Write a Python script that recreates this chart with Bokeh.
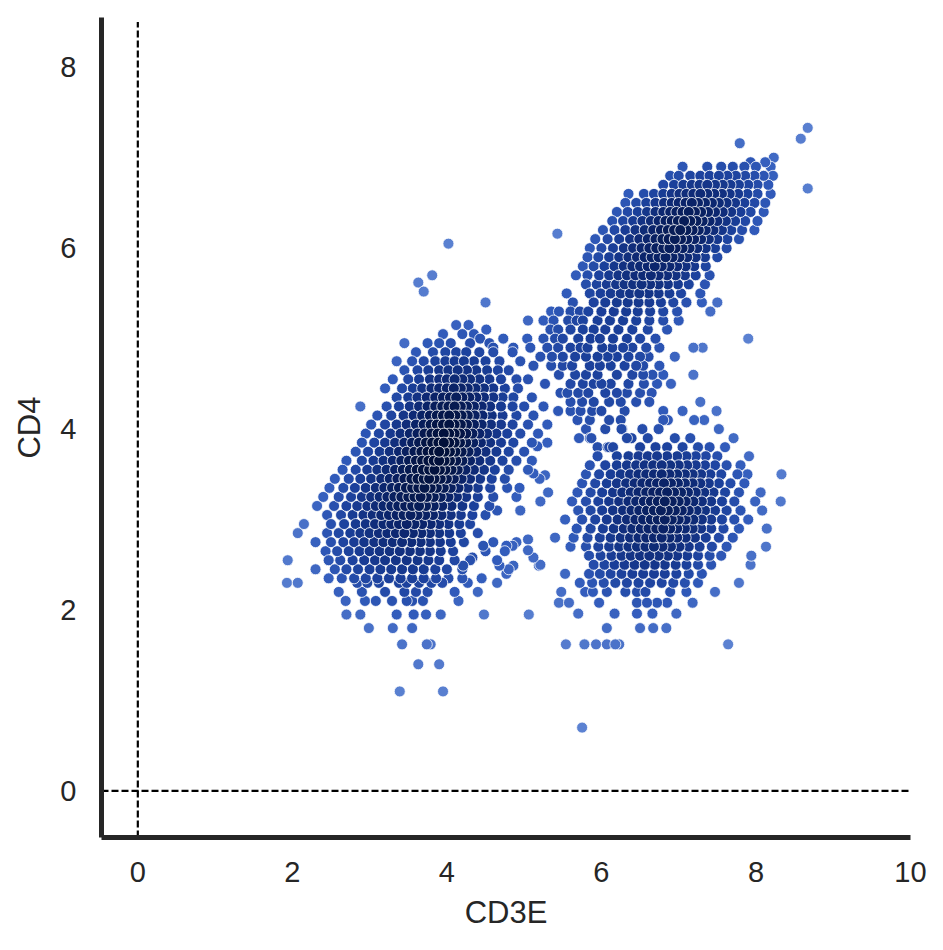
import numpy as np
from bokeh.plotting import figure
from bokeh.models import Range1d, FixedTicker, ColumnDataSource
from bokeh.embed import file_html
from bokeh.resources import INLINE

# ---------------- data ----------------
x_label = "CD3E"
y_label = "CD4"
x_ticks = [0, 2, 4, 6, 8, 10]
y_ticks = [0, 2, 4, 6, 8]
ref_x = 0.0   # vertical dashed reference
ref_y = 0.0   # horizontal dashed reference

# cluster around CD3E~4, CD4~3.5 : rows of (CD4, [CD3E values])
cluster_a_rows = [
    (6.05, [4.02]),
    (5.70, [3.81]),
    (5.62, [3.63]),
    (5.52, [3.70]),
    (5.40, [4.50]),
    (5.15, [4.12, 4.28]),
    (5.05, [3.95, 4.20, 4.35]),
    (4.95, [3.45, 3.75, 3.90, 4.05, 4.30, 4.55]),
    (4.85, [3.60, 3.82, 3.98, 4.12, 4.25, 4.42, 4.60, 4.85]),
    (4.75, [3.35, 3.55, 3.70, 3.85, 3.98, 4.10, 4.22, 4.35, 4.50, 4.68, 4.95]),
    (4.65, [3.45, 3.62, 3.76, 3.90, 4.02, 4.14, 4.26, 4.38, 4.52, 4.66, 4.80]),
    (4.55, [3.30, 3.50, 3.64, 3.78, 3.90, 4.00, 4.10, 4.20, 4.30, 4.42, 4.55, 4.70, 4.90, 5.05]),
    (4.45, [3.20, 3.42, 3.56, 3.68, 3.80, 3.90, 4.00, 4.09, 4.18, 4.27, 4.37, 4.48, 4.60, 4.75, 4.92]),
    (4.35, [3.35, 3.50, 3.62, 3.74, 3.85, 3.95, 4.04, 4.12, 4.20, 4.29, 4.38, 4.48, 4.60, 4.72, 4.86, 5.10]),
    (4.25, [2.88, 3.22, 3.38, 3.52, 3.64, 3.75, 3.85, 3.94, 4.02, 4.10, 4.18, 4.26, 4.35, 4.45, 4.56, 4.70, 4.85, 5.00, 5.25]),
    (4.15, [3.10, 3.28, 3.44, 3.57, 3.68, 3.78, 3.87, 3.95, 4.03, 4.11, 4.19, 4.27, 4.36, 4.46, 4.58, 4.72, 4.90, 5.12]),
    (4.05, [3.02, 3.20, 3.35, 3.48, 3.60, 3.70, 3.79, 3.87, 3.95, 4.03, 4.10, 4.18, 4.26, 4.35, 4.45, 4.57, 4.70, 4.85, 5.05, 5.30]),
    (3.95, [2.95, 3.12, 3.27, 3.40, 3.52, 3.62, 3.71, 3.80, 3.88, 3.96, 4.03, 4.10, 4.17, 4.25, 4.33, 4.42, 4.52, 4.64, 4.78, 4.95, 5.18]),
    (3.85, [2.90, 3.06, 3.20, 3.33, 3.45, 3.55, 3.64, 3.73, 3.81, 3.89, 3.96, 4.03, 4.10, 4.17, 4.25, 4.34, 4.44, 4.56, 4.70, 4.86, 5.10, 5.30]),
    (3.75, [2.82, 2.98, 3.13, 3.26, 3.38, 3.48, 3.58, 3.67, 3.75, 3.83, 3.90, 3.97, 4.04, 4.11, 4.19, 4.28, 4.38, 4.50, 4.64, 4.80, 5.00]),
    (3.65, [2.70, 2.90, 3.05, 3.18, 3.30, 3.41, 3.51, 3.60, 3.68, 3.76, 3.83, 3.90, 3.97, 4.04, 4.12, 4.20, 4.30, 4.42, 4.56, 4.72, 4.90, 5.10]),
    (3.55, [2.65, 2.82, 2.97, 3.10, 3.22, 3.33, 3.43, 3.52, 3.61, 3.69, 3.77, 3.84, 3.91, 3.98, 4.06, 4.14, 4.24, 4.35, 4.48, 4.62, 4.80, 5.05]),
    (3.45, [2.55, 2.73, 2.88, 3.02, 3.15, 3.26, 3.36, 3.45, 3.54, 3.62, 3.70, 3.77, 3.84, 3.92, 4.00, 4.09, 4.19, 4.30, 4.43, 4.58, 4.75, 5.20]),
    (3.35, [2.48, 2.66, 2.81, 2.95, 3.08, 3.19, 3.29, 3.38, 3.47, 3.55, 3.63, 3.71, 3.79, 3.87, 3.96, 4.05, 4.15, 4.27, 4.40, 4.56, 4.78]),
    (3.25, [2.40, 2.60, 2.76, 2.90, 3.02, 3.13, 3.23, 3.32, 3.41, 3.50, 3.58, 3.66, 3.74, 3.83, 3.92, 4.02, 4.13, 4.25, 4.40, 4.60, 4.90]),
    (3.15, [2.32, 2.54, 2.70, 2.84, 2.97, 3.08, 3.18, 3.28, 3.37, 3.46, 3.55, 3.64, 3.73, 3.83, 3.94, 4.06, 4.20, 4.35, 4.55]),
    (3.05, [2.45, 2.63, 2.78, 2.92, 3.04, 3.15, 3.25, 3.35, 3.44, 3.53, 3.62, 3.72, 3.82, 3.93, 4.05, 4.18, 4.33, 4.50]),
    (2.95, [2.15, 2.50, 2.67, 2.82, 2.95, 3.07, 3.18, 3.28, 3.38, 3.48, 3.58, 3.68, 3.79, 3.90, 4.02, 4.16, 4.30]),
    (2.85, [2.07, 2.45, 2.60, 2.75, 2.88, 3.00, 3.12, 3.23, 3.34, 3.45, 3.56, 3.67, 3.78, 3.90, 4.03, 4.18, 4.40]),
    (2.75, [2.30, 2.50, 2.66, 2.80, 2.93, 3.06, 3.18, 3.30, 3.42, 3.54, 3.66, 3.78, 3.91, 4.05, 4.22, 4.60, 4.90]),
    (2.65, [2.43, 2.58, 2.73, 2.87, 3.00, 3.13, 3.26, 3.39, 3.52, 3.65, 3.78, 3.92, 4.08, 4.50, 4.75]),
    (2.55, [1.94, 2.47, 2.62, 2.78, 2.93, 3.07, 3.20, 3.34, 3.48, 3.62, 3.76, 3.90, 4.10, 4.30, 4.65]),
    (2.45, [2.30, 2.55, 2.70, 2.85, 3.00, 3.14, 3.28, 3.42, 3.56, 3.70, 3.85, 4.00, 4.20, 4.80]),
    (2.35, [2.47, 2.64, 2.80, 2.95, 3.10, 3.25, 3.40, 3.55, 3.70, 3.86, 4.02, 4.20, 4.45]),
    (2.30, [1.93, 2.07, 2.84, 2.97, 3.12, 3.38, 3.48, 3.64, 3.80, 3.94, 4.27, 4.65]),
    (2.20, [2.60, 2.90, 3.20, 3.45, 3.60, 3.75, 4.10, 4.40]),
    (2.10, [2.69, 2.94, 3.08, 3.29, 3.48, 3.55, 3.69, 4.15]),
    (1.95, [2.70, 2.88, 3.35, 3.57, 3.73, 3.92, 4.48, 5.06]),
    (1.80, [2.99, 3.30, 3.55]),
    (1.62, [3.42, 3.74, 3.79]),
    (1.40, [3.63, 3.90]),
    (1.10, [3.39, 3.95]),
]

# scattered cells between the left and the lower-right clusters
arm_x = [5.05, 4.77, 4.85, 4.47, 4.33, 4.21, 4.68, 4.86, 4.77, 5.12, 5.19, 5.05, 4.95, 4.65, 4.94, 5.27, 5.12, 5.17]
arm_y = [2.78, 2.71, 2.71, 2.71, 2.58, 2.49, 2.49, 2.49, 2.40, 2.58, 2.49, 2.66, 3.10, 3.10, 3.35, 3.49, 3.51, 3.81]

# upper-right cluster (CD3E~7, CD4~6) and the bridge below it
cluster_b_rows = [
    (7.33, [8.67]),
    (7.21, [8.58]),
    (7.16, [7.79]),
    (7.00, [8.23]),
    (6.95, [7.93, 8.12]),
    (6.90, [7.05, 7.37, 7.55, 7.70, 7.85, 8.00, 8.19]),
    (6.80, [6.89, 7.00, 7.15, 7.28, 7.40, 7.52, 7.63, 7.74, 7.86, 7.98, 8.10, 8.22]),
    (6.70, [6.80, 6.94, 7.06, 7.17, 7.27, 7.37, 7.47, 7.57, 7.67, 7.78, 7.90, 8.02, 8.16]),
    (6.66, [8.67]),
    (6.60, [6.35, 6.55, 6.68, 6.80, 6.91, 7.01, 7.10, 7.19, 7.28, 7.37, 7.46, 7.56, 7.66, 7.77, 7.89, 8.02, 8.19]),
    (6.50, [6.31, 6.45, 6.58, 6.70, 6.81, 6.91, 7.00, 7.09, 7.17, 7.25, 7.34, 7.43, 7.52, 7.62, 7.73, 7.85, 7.98, 8.12]),
    (6.40, [6.20, 6.34, 6.47, 6.59, 6.70, 6.80, 6.89, 6.97, 7.05, 7.13, 7.21, 7.29, 7.38, 7.47, 7.57, 7.68, 7.80, 7.93, 8.10]),
    (6.30, [6.14, 6.28, 6.41, 6.53, 6.64, 6.74, 6.83, 6.91, 6.99, 7.07, 7.15, 7.23, 7.31, 7.40, 7.50, 7.61, 7.73, 7.86, 8.02]),
    (6.20, [6.02, 6.17, 6.31, 6.44, 6.56, 6.67, 6.77, 6.86, 6.94, 7.02, 7.10, 7.18, 7.26, 7.35, 7.45, 7.56, 7.68, 7.82, 7.98]),
    (6.16, [5.43]),
    (6.10, [5.92, 6.08, 6.23, 6.37, 6.49, 6.60, 6.70, 6.79, 6.87, 6.95, 7.03, 7.11, 7.20, 7.29, 7.39, 7.50, 7.63, 7.78]),
    (6.00, [5.85, 6.00, 6.15, 6.29, 6.41, 6.52, 6.62, 6.71, 6.80, 6.88, 6.96, 7.05, 7.14, 7.24, 7.35, 7.47, 7.62]),
    (5.90, [5.82, 5.96, 6.10, 6.23, 6.35, 6.46, 6.56, 6.65, 6.74, 6.83, 6.92, 7.01, 7.11, 7.22, 7.34, 7.50]),
    (5.80, [5.76, 5.90, 6.04, 6.17, 6.29, 6.40, 6.50, 6.60, 6.69, 6.78, 6.88, 6.98, 7.09, 7.20, 7.35]),
    (5.70, [5.67, 5.82, 5.97, 6.10, 6.22, 6.33, 6.44, 6.54, 6.64, 6.74, 6.85, 6.96, 7.08, 7.22, 7.40]),
    (5.60, [5.80, 5.94, 6.07, 6.19, 6.30, 6.41, 6.52, 6.63, 6.74, 6.86, 6.99, 7.13, 7.34]),
    (5.50, [5.55, 5.85, 5.99, 6.12, 6.25, 6.37, 6.49, 6.61, 6.74, 6.88, 7.03, 7.28]),
    (5.40, [5.63, 5.90, 6.05, 6.20, 6.34, 6.48, 6.62, 6.77, 6.93, 7.10, 7.30, 7.50]),
    (5.30, [5.35, 5.45, 5.60, 5.72, 5.83, 6.00, 6.16, 6.32, 6.47, 6.63, 6.80, 6.98, 7.41]),
    (5.20, [5.05, 5.25, 5.38, 5.57, 5.68, 5.76, 5.95, 6.11, 6.28, 6.45, 6.62, 6.80, 7.00]),
    (5.10, [4.51, 5.34, 5.44, 5.60, 5.76, 5.90, 6.05, 6.22, 6.40, 6.60, 6.85]),
    (5.00, [4.43, 4.73, 5.04, 5.25, 5.40, 5.50, 5.70, 5.86, 5.98, 6.15, 6.33, 6.50, 6.70, 7.90]),
    (4.90, [4.60, 4.86, 5.08, 5.30, 5.44, 5.60, 5.73, 5.82, 6.01, 6.14, 6.28, 6.40, 6.58, 6.75, 7.19, 7.31]),
    (4.80, [5.21, 5.36, 5.50, 5.66, 5.80, 5.95, 6.08, 6.20, 6.35, 6.50, 6.61, 6.95]),
    (4.70, [5.12, 5.35, 5.50, 5.62, 5.85, 5.98, 6.12, 6.30, 6.45, 6.54, 6.75]),
    (4.60, [5.45, 5.66, 5.80, 5.95, 6.20, 6.40, 6.54, 6.66, 6.80, 7.19]),
    (4.50, [5.27, 5.60, 5.76, 5.90, 6.00, 6.12, 6.35, 6.55, 6.72, 6.90]),
    (4.40, [5.47, 5.56, 5.70, 5.83, 6.05, 6.20, 6.33, 6.50, 6.65]),
    (4.30, [5.60, 5.75, 5.90, 6.10, 6.25, 6.45, 6.62]),
    (4.20, [5.44, 5.60, 5.73, 5.88, 6.00, 6.30, 6.80]),
    (4.10, [5.69, 5.85, 6.10, 6.25, 6.80]),
    (4.00, [5.80, 6.05, 6.27]),
    (3.90, [5.85, 6.33]),
    (3.80, [5.95, 6.08, 6.15]),
]

# lower-right cluster (CD3E~6.8, CD4~3)
cluster_c_rows = [
    (4.30, [7.28]),
    (4.20, [7.05, 7.49]),
    (4.10, [6.86, 7.20, 7.33]),
    (4.00, [6.26, 6.53, 6.74, 7.52]),
    (3.90, [5.71, 5.87, 6.39, 6.60, 6.95, 7.15, 7.71]),
    (3.80, [6.10, 6.50, 6.70, 6.85, 7.05, 7.25, 7.40, 7.60]),
    (3.70, [5.95, 6.20, 6.35, 6.48, 6.60, 6.72, 6.85, 6.98, 7.10, 7.22, 7.35, 7.50, 7.91]),
    (3.60, [5.85, 6.05, 6.20, 6.33, 6.45, 6.56, 6.67, 6.78, 6.89, 7.00, 7.11, 7.22, 7.34, 7.47, 7.62, 7.80]),
    (3.50, [5.80, 5.97, 6.12, 6.25, 6.37, 6.48, 6.58, 6.68, 6.78, 6.88, 6.98, 7.08, 7.18, 7.29, 7.41, 7.55, 7.76, 7.89, 8.33]),
    (3.40, [5.75, 5.92, 6.07, 6.20, 6.32, 6.43, 6.53, 6.63, 6.72, 6.81, 6.90, 6.99, 7.08, 7.18, 7.28, 7.39, 7.52, 7.67, 7.85]),
    (3.30, [5.31, 5.69, 5.86, 6.01, 6.15, 6.27, 6.38, 6.48, 6.58, 6.67, 6.76, 6.85, 6.94, 7.03, 7.12, 7.22, 7.33, 7.45, 7.60, 7.78, 8.06]),
    (3.20, [5.21, 5.62, 5.80, 5.96, 6.10, 6.23, 6.35, 6.45, 6.55, 6.64, 6.73, 6.82, 6.91, 7.00, 7.09, 7.19, 7.30, 7.42, 7.56, 7.72, 7.99, 8.32]),
    (3.10, [5.70, 5.86, 6.01, 6.15, 6.28, 6.39, 6.49, 6.59, 6.68, 6.77, 6.86, 6.95, 7.04, 7.13, 7.23, 7.34, 7.47, 7.62, 7.80, 8.08]),
    (3.00, [5.53, 5.75, 5.92, 6.07, 6.21, 6.33, 6.44, 6.54, 6.64, 6.73, 6.82, 6.91, 7.00, 7.09, 7.19, 7.30, 7.42, 7.56, 7.72, 7.90]),
    (2.90, [5.68, 5.86, 6.02, 6.16, 6.29, 6.40, 6.51, 6.61, 6.71, 6.80, 6.89, 6.98, 7.08, 7.18, 7.29, 7.42, 7.58, 7.78, 8.14]),
    (2.80, [5.40, 5.64, 5.82, 5.98, 6.12, 6.25, 6.37, 6.48, 6.58, 6.68, 6.78, 6.88, 6.98, 7.09, 7.21, 7.35, 7.52, 7.70]),
    (2.70, [5.60, 5.80, 5.96, 6.10, 6.23, 6.35, 6.46, 6.57, 6.68, 6.79, 6.90, 7.01, 7.13, 7.27, 7.43, 7.62, 8.13]),
    (2.60, [5.84, 5.99, 6.13, 6.26, 6.38, 6.50, 6.62, 6.74, 6.86, 6.98, 7.11, 7.25, 7.40, 7.55, 7.94]),
    (2.50, [5.21, 5.90, 6.04, 6.17, 6.30, 6.43, 6.56, 6.69, 6.82, 6.96, 7.10, 7.25, 7.42, 7.93]),
    (2.40, [5.53, 5.84, 5.98, 6.12, 6.26, 6.40, 6.54, 6.68, 6.82, 6.97, 7.13, 7.30]),
    (2.30, [5.72, 5.88, 6.03, 6.18, 6.33, 6.48, 6.63, 6.78, 6.93, 7.08, 7.25, 7.78]),
    (2.20, [5.48, 5.79, 5.89, 6.07, 6.31, 6.46, 6.57, 6.89, 7.10, 7.47]),
    (2.08, [5.45, 5.58, 5.97, 6.46, 6.59, 6.72, 6.85, 7.18]),
    (1.96, [5.70, 6.17, 6.46, 6.66, 6.97]),
    (1.80, [6.07, 6.50, 6.67, 6.84]),
    (1.62, [5.54, 5.78, 5.93, 6.07, 6.18, 6.23, 7.64]),
    (0.70, [5.75]),
]

# ---------------- assemble ----------------
xs, ys = [], []
for rows in (cluster_a_rows, cluster_b_rows, cluster_c_rows):
    for yv, xv in rows:
        for xx in xv:
            xs.append(xx)
            ys.append(yv)
xs += arm_x
ys += arm_y
X = np.array(xs, dtype=float)
Y = np.array(ys, dtype=float)

# colour by local point density (density-hued scatter)
h = 0.28
d2 = (X[:, None] - X[None, :]) ** 2 + (Y[:, None] - Y[None, :]) ** 2
dens = np.exp(-d2 / (2 * h * h)).sum(axis=1)
t = (dens - dens.min()) / (dens.max() - dens.min())
t = t ** 1.1
stops = [0.0, 0.25, 0.5, 0.75, 1.0]
R = np.interp(t, stops, [92, 50, 27, 12, 2])
G = np.interp(t, stops, [130, 92, 64, 38, 17])
B = np.interp(t, stops, [210, 188, 155, 110, 58])
colors = ["#%02x%02x%02x" % (int(r), int(g), int(b)) for r, g, b in zip(R, G, B)]
order = np.argsort(dens)
src = ColumnDataSource(dict(x=X[order], y=Y[order], c=[colors[i] for i in order]))

# ---------------- figure ----------------
p = figure(width=935, height=942, output_backend="svg", toolbar_location=None,
           x_range=Range1d(-0.47, 10.0), y_range=Range1d(-0.515, 8.55),
           min_border_left=101, min_border_right=25, min_border_top=17, min_border_bottom=105)
p.outline_line_color = None
p.grid.visible = False
p.background_fill_color = "white"

for ax in (p.xaxis[0], p.yaxis[0]):
    ax.axis_line_width = 5
    ax.axis_line_color = "#262626"
    ax.major_tick_line_color = None
    ax.minor_tick_line_color = None
    ax.major_tick_out = 0
    ax.major_tick_in = 0
    ax.major_label_text_font = "Liberation Sans"
    ax.major_label_text_font_size = "29px"
    ax.major_label_text_color = "#262626"
    ax.axis_label_text_font = "Liberation Sans"
    ax.axis_label_text_font_size = "31px"
    ax.axis_label_text_font_style = "normal"
    ax.axis_label_text_color = "#262626"

p.xaxis.ticker = FixedTicker(ticks=x_ticks)
p.yaxis.ticker = FixedTicker(ticks=y_ticks)
p.xaxis.axis_label = x_label
p.yaxis.axis_label = y_label
p.xaxis.major_label_standoff = 24
p.yaxis.major_label_standoff = 25
p.xaxis.axis_label_standoff = 10
p.yaxis.axis_label_standoff = 10

# dashed reference lines
p.segment(x0=[ref_x], y0=[-0.515], x1=[ref_x], y1=[8.5], line_color="black", line_width=2.2, line_dash="7 3")
p.segment(x0=[-0.47], y0=[ref_y], x1=[10.0], y1=[ref_y], line_color="black", line_width=2.2, line_dash="7 3")

p.scatter("x", "y", source=src, size=11, fill_color="c", line_color="white", line_width=0.8)

open("out.html", "w").write(file_html(p, INLINE))
